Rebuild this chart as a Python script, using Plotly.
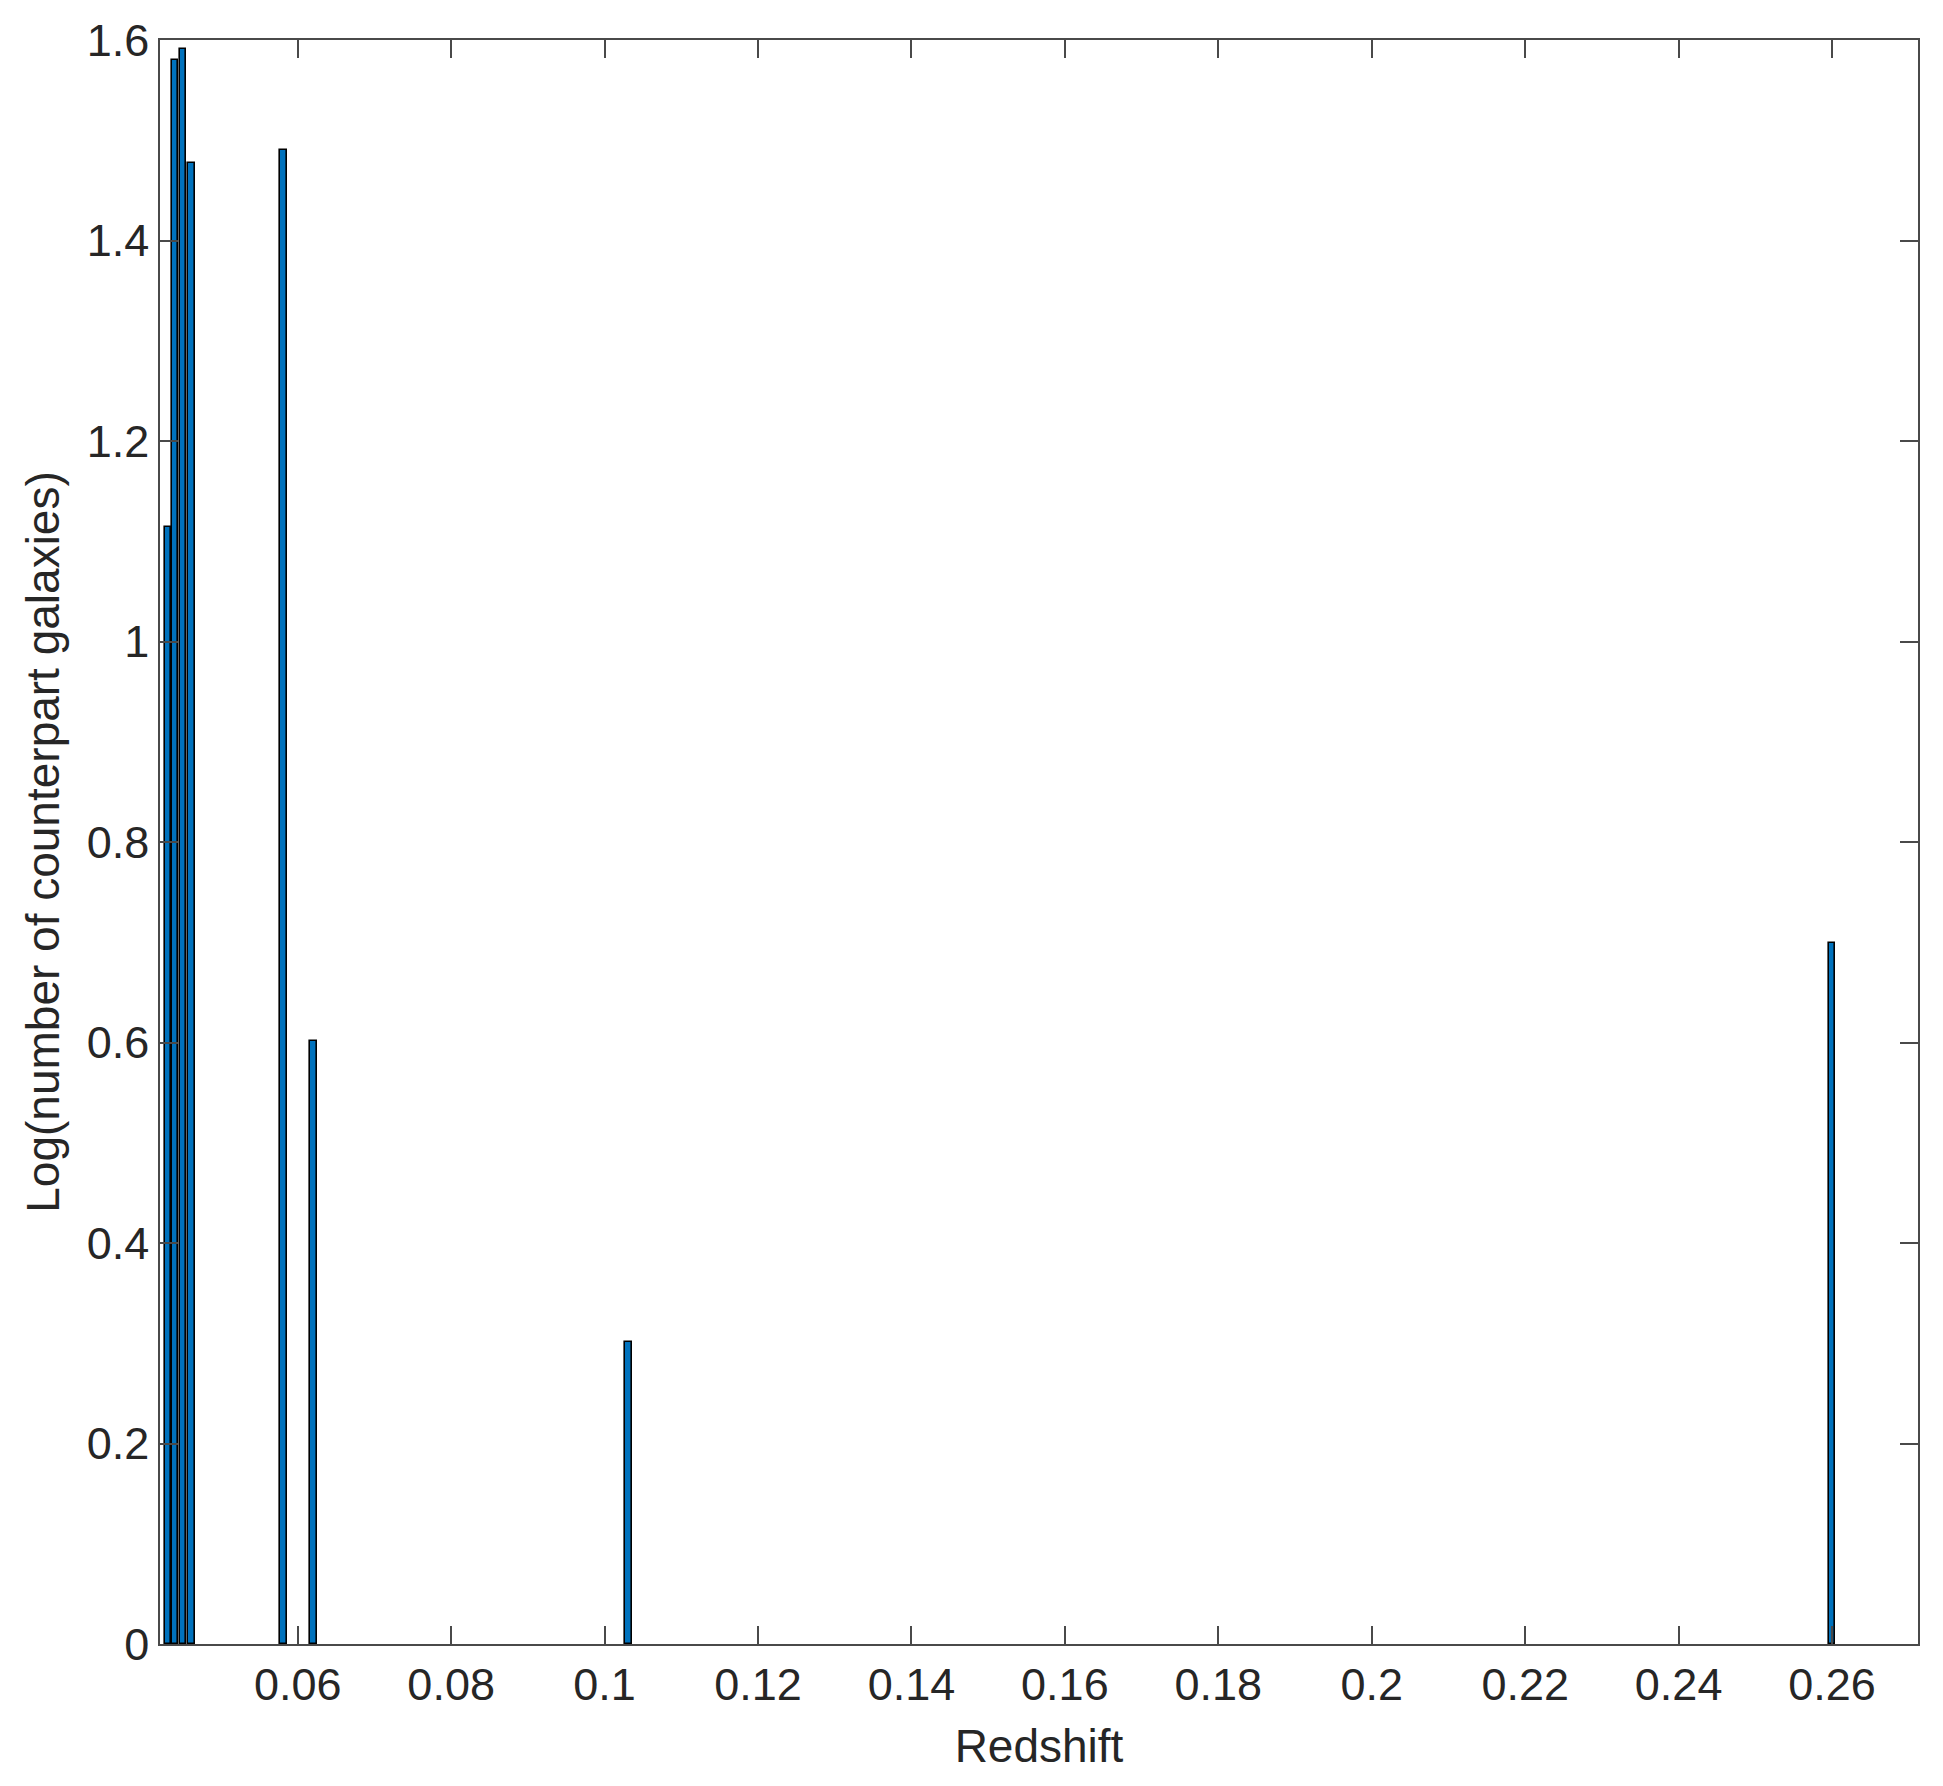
import plotly.graph_objects as go

# Data
redshift = [0.04309, 0.04400, 0.04505, 0.04611, 0.05812, 0.06210, 0.10310, 0.26000]
log_counts = [1.114, 1.580, 1.591, 1.477, 1.490, 0.602, 0.301, 0.699]

x_tickvals = [0.06, 0.08, 0.10, 0.12, 0.14, 0.16, 0.18, 0.20, 0.22, 0.24, 0.26]
x_ticktext = ["0.06", "0.08", "0.1", "0.12", "0.14", "0.16", "0.18", "0.2", "0.22", "0.24", "0.26"]
y_tickvals = [0, 0.2, 0.4, 0.6, 0.8, 1.0, 1.2, 1.4, 1.6]
y_ticktext = ["0", "0.2", "0.4", "0.6", "0.8", "1", "1.2", "1.4", "1.6"]

FONT = "Liberation Sans, Arial, Helvetica, sans-serif"
AXC = "#4a4a4a"
TXT = "#262626"

fig = go.Figure()
fig.add_trace(go.Bar(
    x=redshift, y=log_counts, width=0.00088,
    marker=dict(color="#0072BD", line=dict(color="#000000", width=1.6)),
))

# page body has an 8px default margin, so the figure is shrunk by 8px and margins shifted
fig.update_layout(
    width=1935, height=1778,
    margin=dict(l=152, r=25, t=32, b=142),
    paper_bgcolor="white", plot_bgcolor="white",
    showlegend=False,
    font=dict(family=FONT, color=TXT, size=45),
    bargap=0,
)
fig.update_xaxes(
    range=[0.04205, 0.2712], tickvals=x_tickvals, ticktext=x_ticktext,
    ticks="inside", ticklen=18, tickwidth=1.5, tickcolor=AXC,
    showline=True, linecolor=AXC, linewidth=1.5, mirror="ticks",
    showgrid=False, zeroline=False,
    tickfont=dict(family=FONT, size=45, color=TXT),
    title=dict(text="Redshift", font=dict(family=FONT, size=46, color=TXT), standoff=21),
    automargin=False,
)
fig.update_yaxes(
    range=[0, 1.6], tickvals=y_tickvals, ticktext=y_ticktext,
    ticks="inside", ticklen=18, tickwidth=1.5, tickcolor=AXC,
    showline=True, linecolor=AXC, linewidth=1.5, mirror="ticks",
    showgrid=False, zeroline=False,
    tickfont=dict(family=FONT, size=45, color=TXT),
    title=dict(text="Log(number of counterpart galaxies)", font=dict(family=FONT, size=46, color=TXT), standoff=13),
    automargin=False,
)

fig.write_html("out.html")
